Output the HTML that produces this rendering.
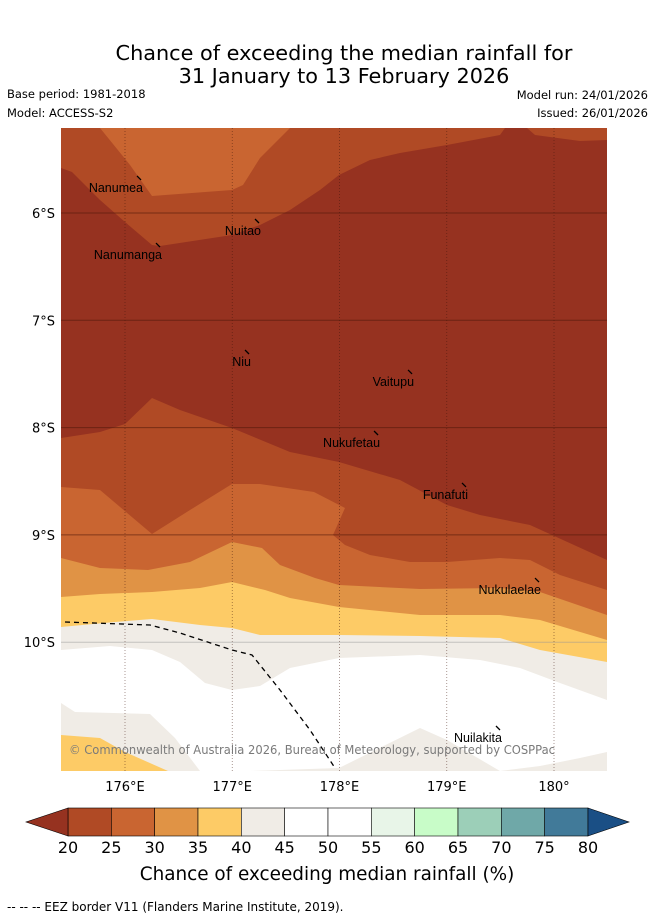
<!DOCTYPE html>
<html><head><meta charset="utf-8"><style>
body{margin:0;background:#fff;width:655px;height:919px;overflow:hidden;font-family:"DejaVu Sans","Liberation Sans",sans-serif}
</style></head><body>
<svg width="655" height="919" viewBox="0 0 655 919" id="s">
<text x="344" y="60" text-anchor="middle" font-size="20.8">Chance of exceeding the median rainfall for</text>
<text x="344" y="83" text-anchor="middle" font-size="20.8">31 January to 13 February 2026</text>
<text x="7" y="98" font-size="11.5">Base period: 1981-2018</text>
<text x="7" y="117" font-size="11.5">Model: ACCESS-S2</text>
<text x="648" y="99" font-size="11.5" text-anchor="end">Model run: 24/01/2026</text>
<text x="648" y="117" font-size="11.5" text-anchor="end">Issued: 26/01/2026</text>
<defs><clipPath id="mc"><rect x="61" y="128" width="546" height="643"/></clipPath></defs>
<g id="map" clip-path="url(#mc)"></g>
<g id="cb"></g>
<text x="327" y="880" text-anchor="middle" font-size="18.4">Chance of exceeding median rainfall (%)</text>
<text x="7" y="911" font-size="12">-- -- -- EEZ border V11 (Flanders Marine Institute, 2019).</text>
</svg>
<script>
const NS='http://www.w3.org/2000/svg';
const levels=[20,25,30,35,40,45,50,55,60,65,70,75,80];
const levelColors=['#b04a25','#c96531','#e09345','#fdcb66','#f0ece6','#ffffff','#ffffff','#e8f5e8','#c8fcc8','#9ccfb8','#6fa8a8','#417a99'];
const lonTicks=[176,177,178,179,180];
const latTicks=[6,7,8,9,10];
const lonLabels=['176°E','177°E','178°E','179°E','180°'];
const islands=[['Nanumea',176.168,-5.804],['Nuitao',177.268,-6.205],['Nanumanga',176.345,-6.429],['Niu',177.175,-7.426],['Vaitupu',178.695,-7.612],['Nukufetau',178.378,-8.181],['Funafuti',179.198,-8.665],['Nukulaelae',179.879,-9.551],['Nuilakita',179.515,-10.93]];
const X=lon=>125+(lon-176)*107.25, Y=lat=>213+(-lat-6)*107.3;
const map=document.getElementById('map'),cb=document.getElementById('cb');
function el(t,a,p){const e=document.createElementNS(NS,t);for(const k in a)e.setAttribute(k,a[k]);p.appendChild(e);return e;}
const shapes=[
['#963220','61,128 607,128 607,771 61,771'],
['#b04a25','61,128 505,128 500,135 447,145 400,153 370,160 339,175 320,190 290,210 260,225 232,235 160,246 152,245 125,222 100,200 72,172 61,168'],
['#c96531','100,128 290,128 260,158 243,185 232,190 152,196 130,165'],
['#b04a25','527,128 607,128 607,140 580,141 535,135'],
['#b04a25','61,438 100,432 125,424 152,398 180,410 232,428 290,452 339,462 400,480 447,505 480,515 530,525 607,560 607,771 61,771'],
['#c96531','61,487 100,490 152,534 190,510 232,484 260,484 314,492 345,508 333,535 345,545 370,555 410,562 447,562 500,558 530,560 560,575 607,590 607,771 61,771'],
['#e09345','61,558 100,568 148,570 190,562 232,542 262,548 280,565 315,578 339,585 420,589 500,588 540,592 607,615 607,771 61,771'],
['#fdcb66','61,597 100,594 152,592 200,588 232,582 265,590 290,598 339,607 420,615 500,615 540,620 607,640 607,771 61,771'],
['#f0ece6','61,627 115,622 152,619 200,625 232,628 260,635 339,635 420,636 500,638 540,650 607,662 607,771 61,771'],
['#ffffff','61,650 110,646 152,650 180,662 205,683 232,690 260,686 290,668 339,658 420,655 480,660 520,668 560,683 607,700 607,771 61,771'],
['#f0ece6','61,703 75,712 150,714 175,738 200,771 61,771'],
['#fdcb66','61,735 100,738 125,752 168,771 61,771'],
['#f0ece6','250,771 339,768 420,728 447,740 500,771 540,766 580,758 607,752 607,771'],
['#ffffff','66,670 75,667 88,671 72,674'],
['#ffffff','232,722 270,722 260,733 238,730']
];
shapes.forEach((s,i)=>{const p=el('polygon',{points:s[1],fill:s[0]},map);

});
lonTicks.forEach((l,i)=>{const ln=el('line',{x1:X(l),x2:X(l),y1:128,y2:771,stroke:'rgba(60,20,10,0.55)','stroke-width':0.8,'stroke-dasharray':'1,2'},map);


const t=el('text',{x:X(l),y:791,'text-anchor':'middle','font-size':13},document.getElementById('s'));t.textContent=lonLabels[i];

});
latTicks.forEach(l=>{const ln=el('line',{x1:61,x2:607,y1:Y(-l),y2:Y(-l),stroke:l==10?'rgba(150,150,150,0.5)':'rgba(80,25,10,0.6)','stroke-width':1},map);


const t=el('text',{x:55,y:Y(-l)+5,'text-anchor':'end','font-size':13},document.getElementById('s'));t.textContent=l+'°S';

});
const eez=el('polyline',{points:'65,622 150,625 180,633 232,650 252,655 280,690 310,730 335,768',fill:'none',stroke:'#000','stroke-width':1.3,'stroke-dasharray':'5,4'},map);


islands.forEach(d=>{const x=X(d[1]),y=Y(d[2]);
const m=el('line',{x1:x-6,y1:y-16,x2:x-2,y2:y-12,stroke:'#000','stroke-width':1.3},map);


const t=el('text',{x:x,y:y,'text-anchor':'end','font-size':12.5,fill:'#000','font-family':'Liberation Sans, sans-serif'},map);t.textContent=d[0];

});
const cp=el('text',{x:69,y:754,'font-size':12,fill:'#7a7a7a',textLength:486,lengthAdjust:'spacingAndGlyphs'},map);cp.textContent='© Commonwealth of Australia 2026, Bureau of Meteorology, supported by COSPPac';


const cx0=68,cx1=588,cy=808,ch=28;
const CX=v=>cx0+(v-levels[0])/(levels[levels.length-1]-levels[0])*(cx1-cx0);
levelColors.forEach((c,i)=>{const r=el('rect',{x:CX(levels[i]),y:cy,width:CX(levels[i+1])-CX(levels[i]),height:ch,fill:c,stroke:'#000','stroke-width':0.6},cb);

});
const lt=el('polygon',{points:`${cx0},${cy} ${cx0},${cy+ch} 26,${cy+ch/2}`,fill:'#963220',stroke:'#000','stroke-width':0.6},cb);


const rt=el('polygon',{points:`${cx1},${cy} ${cx1},${cy+ch} 629,${cy+ch/2}`,fill:'#1a4f85',stroke:'#000','stroke-width':0.6},cb);


levels.forEach(v=>{const t=el('text',{x:CX(v),y:853,'text-anchor':'middle','font-size':16},cb);t.textContent=v;

});
</script>
</body></html>
